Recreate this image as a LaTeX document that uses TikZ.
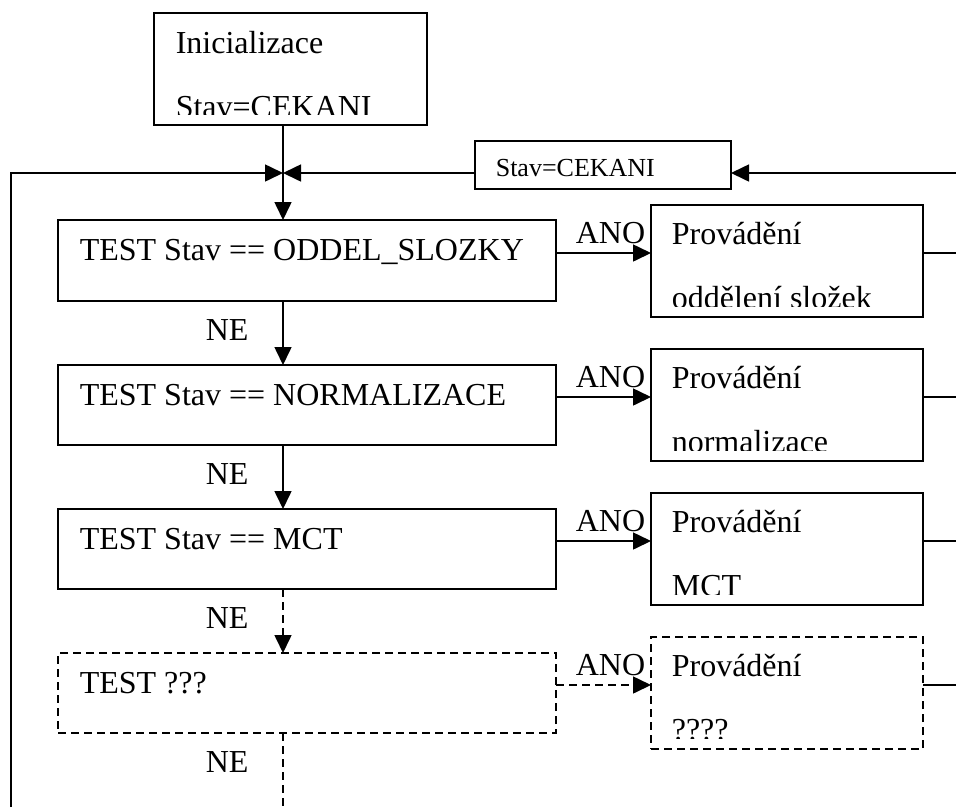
\documentclass[tikz,border=0pt]{standalone}
\usepackage{fontspec}
\setmainfont{Liberation Serif}
\usetikzlibrary{arrows.meta}
\begin{document}
\begin{tikzpicture}[x=1pt,y=-1pt,
  line width=1.6pt,
  box/.style={draw,rectangle,inner sep=0,outer sep=0},
  dbox/.style={box,dash pattern=on 8pt off 5pt},
  dsh/.style={dash pattern=on 8pt off 5pt},
  txt/.style={anchor=base west,inner sep=0,font=\fontsize{32}{38}\selectfont},
  stxt/.style={anchor=base west,inner sep=0,font=\fontsize{26}{31}\selectfont},
  arr/.style={-{Triangle[length=18pt,width=17pt]}},
]
\useasboundingbox (0,0) rectangle (956,807);

% boxes
\node[box,minimum width=273pt,minimum height=112pt] (init) at (290.5,69) {};
\node[box,minimum width=256pt,minimum height=48pt] (cek) at (603,165) {};
\node[box,minimum width=498pt,minimum height=81pt] (t1) at (307,260.5) {};
\node[box,minimum width=272pt,minimum height=112pt] (p1) at (787,261) {};
\node[box,minimum width=498pt,minimum height=80pt] (t2) at (307,405) {};
\node[box,minimum width=272pt,minimum height=112pt] (p2) at (787,405) {};
\node[box,minimum width=498pt,minimum height=80pt] (t3) at (307,549) {};
\node[box,minimum width=272pt,minimum height=112pt] (p3) at (787,549) {};
\node[dbox,minimum width=498pt,minimum height=80pt] (t4) at (307,693) {};
\node[dbox,minimum width=272pt,minimum height=112pt] (p4) at (787,693) {};

% texts
\node[txt] (initA) at (175,53) {Inicializace};
\begin{scope}
\clip (154,13) rectangle (427,114);
\node[txt] (initB) at (175,117) {Stav=CEKANI};
\end{scope}
\node[stxt] (cekT) at (495,176) {Stav=CEKANI};

\node[txt] (t1T) at (79,260) {TEST Stav == ODDEL\_SLOZKY};
\node[txt] (t2T) at (79,405) {TEST Stav == NORMALIZACE};
\node[txt] (t3T) at (79,549) {TEST Stav == MCT};
\node[txt] (t4T) at (79,693) {TEST ???};

\node[txt] (p1A) at (671,244) {Provádění};
\node[txt] (p2A) at (671,388) {Provádění};
\node[txt] (p3A) at (671,532) {Provádění};
\node[txt] (p4A) at (671,676) {Provádění};
\begin{scope}
\clip (651,205) rectangle (923,306);
\node[txt] (p1B) at (671,308) {oddělení složek};
\end{scope}
\begin{scope}
\clip (651,349) rectangle (923,450);
\node[txt] (p2B) at (671,452) {normalizace};
\end{scope}
\begin{scope}
\clip (651,493) rectangle (923,594);
\node[txt] (p3B) at (671,596) {MCT};
\end{scope}
\begin{scope}
\clip (651,637) rectangle (923,738);
\node[txt] (p4B) at (671,740) {????};
\end{scope}

\node[txt] (ano1) at (575,243) {ANO};
\node[txt] (ano2) at (575,387) {ANO};
\node[txt] (ano3) at (575,531) {ANO};
\node[txt] (ano4) at (575,675) {ANO};

\node[txt] (ne1) at (205,340) {NE};
\node[txt] (ne2) at (205,484) {NE};
\node[txt] (ne3) at (205,628) {NE};
\node[txt] (ne4) at (205,772) {NE};

% coordinates
\coordinate (j) at (283,173);
\coordinate (lb) at (11,807);
\coordinate (rt) at (956,173);
\coordinate (bot) at (283,807);
\coordinate (a1) at (956,253);
\coordinate (a2) at (956,397);
\coordinate (a3) at (956,541);
\coordinate (a4) at (956,685);

% connectors
\draw[arr] (init.south -| j) -- (t1.north -| j);
\draw[arr] (lb) -- (lb |- j) -- (j);
\draw[arr] (rt) -- (cek.east |- rt);
\draw[arr] (cek.west |- j) -- (j);

\draw[arr] (t1.south -| j) -- (t2.north -| j);
\draw[arr] (t2.south -| j) -- (t3.north -| j);
\draw[arr,dsh] (t3.south -| j) -- (t4.north -| j);
\draw[dsh] (t4.south -| j) -- (bot);

\draw[arr] (t1.east |- a1) -- (p1.west |- a1);
\draw[arr] (t2.east |- a2) -- (p2.west |- a2);
\draw[arr] (t3.east |- a3) -- (p3.west |- a3);
\draw[arr,dsh] (t4.east |- a4) -- (p4.west |- a4);

\draw (p1.east |- a1) -- (a1);
\draw (p2.east |- a2) -- (a2);
\draw (p3.east |- a3) -- (a3);
\draw (p4.east |- a4) -- (a4);
\end{tikzpicture}
\end{document}
